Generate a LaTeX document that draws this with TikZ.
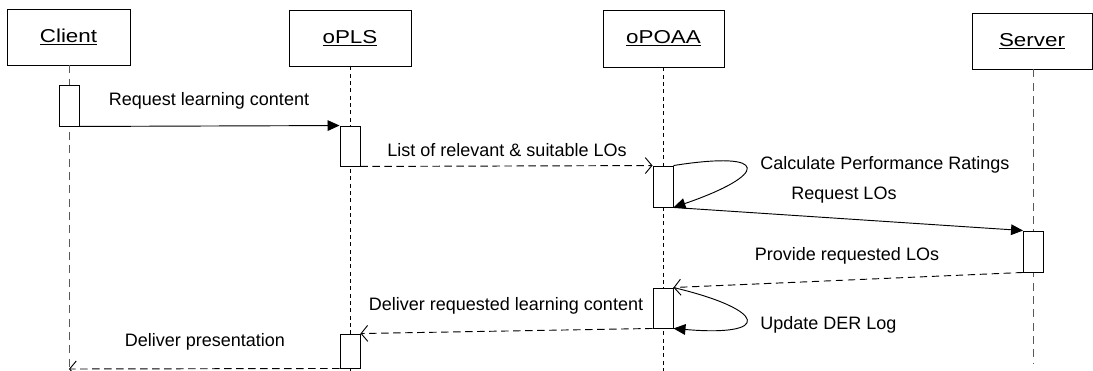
\documentclass[tikz,border=0pt]{standalone}
\usepackage{fontspec}
\setmainfont{Liberation Sans}
\usetikzlibrary{arrows.meta}
\tikzset{
  hdr/.style={draw, line width=0.7pt, fill=white, inner sep=0pt, minimum width=#1},
  hdr/.default=91pt,
  act/.style={draw, line width=0.7pt, fill=white, inner sep=0pt, minimum width=15pt},
  lifeshort/.style={line width=0.6pt, dash pattern=on 3pt off 2.5pt},
  lifelong/.style={line width=0.6pt, draw=black!65, dash pattern=on 6pt off 4pt},
  sync/.style={line width=0.7pt, -{Triangle[length=9pt,width=8pt]}},
  reply/.style={line width=0.7pt, dash pattern=on 5.5pt off 3.5pt, draw=black, -{Straight Barb[length=5pt,width=12pt]}},
  lbl/.style={font=\fontsize{13.5}{16}\selectfont, inner sep=0pt},
  hlbl/.style={font=\fontsize{14}{17}\selectfont}
}
\newcommand{\hdrtext}[1]{\scalebox{1.2}[1]{\underline{#1}}}
\begin{document}
\begin{tikzpicture}[x=0.75pt, y=-0.75pt]
\useasboundingbox (0,0) rectangle (1093,371);
% headers
\node[hdr=92.25pt, minimum height=42pt, hlbl] (client) at (68.5,37) {\hdrtext{Client}};
\node[hdr=91.5pt, minimum height=42pt, hlbl] (opls) at (350,38) {\hdrtext{oPLS}};
\node[hdr=90.75pt, minimum height=42.75pt, hlbl] (opoaa) at (663.5,38.5) {\hdrtext{oPOAA}};
\node[hdr=90pt, minimum height=42pt, hlbl] (server) at (1032,41) {\hdrtext{Server}};
% lifeline ends
\coordinate (cend) at (69,369);
\coordinate (pend) at (350,371);
\coordinate (oend) at (663,371);
\coordinate (send) at (1033.5,363);
% lifelines
\draw[lifelong] (client.south -| cend) -- (cend);
\draw[lifeshort] (opls.south -| pend) -- (pend);
\draw[lifeshort] (opoaa.south -| oend) -- (oend);
\draw[lifelong] (server.south -| send) -- (send);
% activations
\node[act, minimum height=30.75pt] (ca) at (69,105.5) {};
\node[act, minimum height=30pt] (pa1) at (350,146) {};
\node[act, minimum height=30.75pt] (oa1) at (663,186.5) {};
\node[act, minimum height=30.75pt] (sa) at (1033.5,251.5) {};
\node[act, minimum height=30pt] (oa2) at (663,308) {};
\node[act, minimum height=25.5pt] (pa2) at (350,351) {};
% messages
\draw[sync] (ca.south east) -- (pa1.north west);
\node[lbl] (l1) at (209,101) {Request learning content};
\draw[reply] (pa1.south east) -- (oa1.north west);
\node[lbl] (l2) at (507,150) {List of relevant \& suitable LOs};
\draw[sync] (oa1.north east) .. controls (772,150) and (768,175) .. (oa1.south east);
\node[lbl, anchor=west] (l3) at (760,165) {Calculate Performance Ratings};
\draw[sync] (oa1.south east) -- (sa.north west);
\node[lbl] (l4) at (844,195) {Request LOs};
\draw[reply] (sa.south west) -- (oa2.north east);
\node[lbl] (l5) at (847,256) {Provide requested LOs};
\draw[sync] (oa2.north east) .. controls (768,310) and (772,337) .. (oa2.south east);
\node[lbl, anchor=west] (l6) at (760,325) {Update DER Log};
\draw[reply] (oa2.south west) -- (pa2.north east);
\node[lbl] (l7) at (506,306) {Deliver requested learning content};
\draw[reply] (pa2.south west) -- (cend);
\node[lbl] (l8) at (205,342) {Deliver presentation};
\end{tikzpicture}
\end{document}
